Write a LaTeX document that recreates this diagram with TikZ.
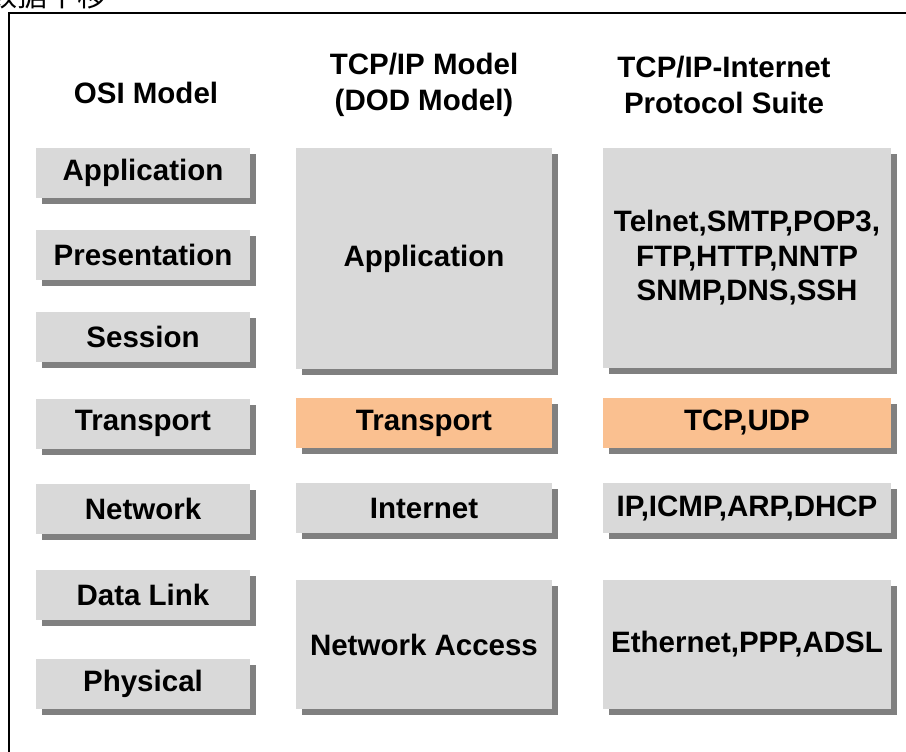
\documentclass[tikz,border=0pt]{standalone}
\usepackage{fontspec}
\setmainfont{Liberation Sans}
\newfontfamily\cjk{Noto Sans CJK SC}
\usetikzlibrary{shadows}
\definecolor{boxgray}{HTML}{D9D9D9}
\definecolor{shadowgray}{HTML}{808080}
\definecolor{boxorange}{HTML}{FAC090}
\begin{document}
\begin{tikzpicture}[x=1pt,y=-1pt,
  lbl/.style={font=\fontsize{29.5}{35}\selectfont\bfseries, text=black, align=center, inner sep=0pt},
  layerbox/.style={lbl, rectangle, fill=boxgray,
    drop shadow={shadow xshift=6pt, shadow yshift=-6pt, fill=shadowgray, opacity=1}},
  hot/.style={layerbox, fill=boxorange},
  osi/.style={layerbox, minimum width=214pt, minimum height=50pt},
  dod/.style={minimum width=256pt},
  suite/.style={minimum width=288pt}]
\useasboundingbox (0,0) rectangle (906,752);
\clip (0,0) rectangle (906,752);
\fill[white] (0,0) rectangle (906,752);
% cut-off caption at top left
\node[anchor=base west, inner sep=0pt, font=\cjk\fontsize{30}{30}\selectfont] (cap) at (-13,7) {数据平移};
% outer frame
\draw[line width=2pt] (8.5,13) rectangle (930,780);
% headers
\node[lbl] (h1) at (146,93) {OSI Model};
\node[lbl, font=\fontsize{29.5}{36}\selectfont\bfseries] (h2) at (424,85) {TCP/IP Model\\(DOD Model)};
\node[lbl, font=\fontsize{29.5}{36}\selectfont\bfseries] (h3) at (724,85) {TCP/IP-Internet\\Protocol Suite};
% OSI column
\node[osi] (o7) at (143,173) {Application};
\node[osi] (o6) at (143,254.5) {Presentation};
\node[osi] (o5) at (143,337) {Session};
\node[osi] (o4) at (143,423.5) {Transport};
\node[osi] (o3) at (143,509) {Network};
\node[osi] (o2) at (143,595) {Data Link};
\node[osi] (o1) at (143,683.5) {Physical};
% TCP/IP (DOD) column
\node[layerbox, dod, minimum height=221pt] (d4) at (424,258.5) {Application};
\node[hot, dod, minimum height=50pt] (d3) at (424,423) {Transport};
\node[layerbox, dod, minimum height=50pt] (d2) at (424,508) {Internet};
\node[layerbox, dod, minimum height=129pt] (d1) at (424,644.5) {Network Access};
% protocol suite column
\node[layerbox, suite, minimum height=220pt, font=\fontsize{29.5}{34.5}\selectfont\bfseries] (p4) at (747,258) {Telnet,SMTP,POP3,\\FTP,HTTP,NNTP\\SNMP,DNS,SSH};
\node[hot, suite, minimum height=50pt] (p3) at (747,422.5) {TCP,UDP};
\node[layerbox, suite, minimum height=50pt] (p2) at (747,508) {IP,ICMP,ARP,DHCP};
\node[layerbox, suite, minimum height=129pt] (p1) at (747,644) {Ethernet,PPP,ADSL};
\end{tikzpicture}
\end{document}
